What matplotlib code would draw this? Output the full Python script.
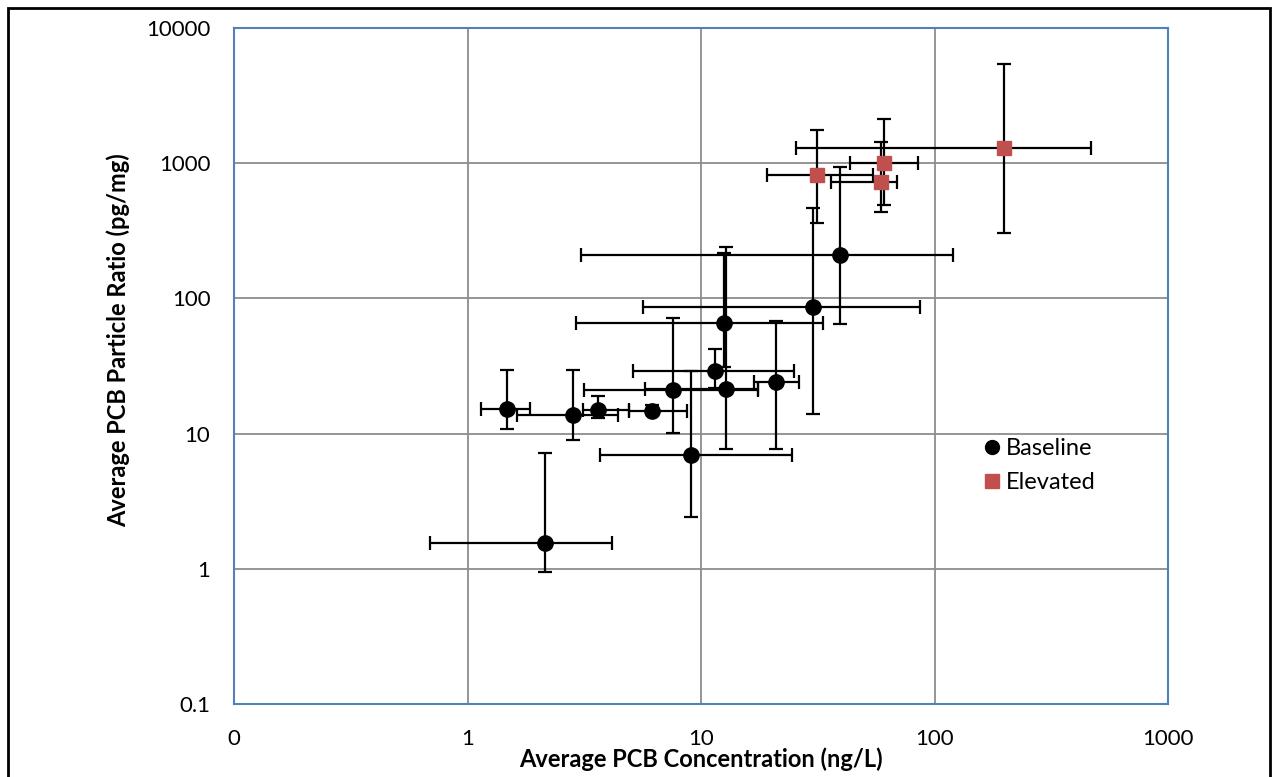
import matplotlib

matplotlib.use('Agg')
import matplotlib.pyplot as plt
from matplotlib.patches import Rectangle
from matplotlib.lines import Line2D
import numpy as np

plt.rcParams['font.family'] = ['Lato', 'DejaVu Sans']

# Baseline: x, x range, y, y range
base_x = [2.15, 1.48, 2.83, 3.61, 6.16, 7.57, 12.8, 11.5, 21.0, 12.5, 30.1, 39.2, 9.02]
base_x_lo = [0.694, 1.145, 1.626, 3.11, 4.94, 3.17, 5.73, 5.10, 16.8, 2.92, 5.63, 3.06, 3.70]
base_x_hi = [4.14, 1.843, 4.40, 4.94, 8.70, 17.6, 17.6, 25.0, 26.2, 33.2, 86.3, 119.8, 24.5]
base_y = [1.565, 15.2, 13.8, 15.0, 14.8, 21.1, 21.3, 29.1, 23.9, 65.7, 87.1, 210, 6.91]
base_y_lo = [0.945, 10.8, 8.95, 13.0, 14.0, 10.1, 7.68, 21.8, 7.72, 31.2, 14.0, 64.5, 2.40]
base_y_hi = [7.13, 29.5, 29.6, 19.0, 16.3, 71.5, 239, 42.2, 68.6, 216, 466, 945, 28.8]

# Elevated
elev_x = [31.5, 60.5, 59.1, 198]
elev_x_lo = [19.1, 43.3, 35.9, 25.4]
elev_x_hi = [54.3, 84.8, 68.9, 469]
elev_y = [816, 1002, 732, 1293]
elev_y_lo = [360, 492, 439, 304]
elev_y_hi = [1766, 2130, 1447, 5433]

x_ticks = [0.1, 1, 10, 100, 1000]
x_tick_labels = ['0', '1', '10', '100', '1000']
y_ticks = [0.1, 1, 10, 100, 1000, 10000]
y_tick_labels = ['0.1', '1', '10', '100', '1000', '10000']

red = '#C0504D'


def err(v, lo, hi):
    v = np.array(v)
    return [v - np.array(lo), np.array(hi) - v]


fig = plt.figure(figsize=(12.72, 7.77), dpi=100)
ax = fig.add_axes([234 / 1272, 1 - 704 / 777, 934 / 1272, 676 / 777])

ax.errorbar(base_x, base_y, xerr=err(base_x, base_x_lo, base_x_hi),
            yerr=err(base_y, base_y_lo, base_y_hi),
            fmt='o', color='black', ecolor='black', markersize=11,
            elinewidth=1.6, capsize=5, capthick=1.6, zorder=3)
ax.errorbar(elev_x, elev_y, xerr=err(elev_x, elev_x_lo, elev_x_hi),
            yerr=err(elev_y, elev_y_lo, elev_y_hi),
            fmt='s', color=red, ecolor='black', markersize=10.5,
            elinewidth=1.6, capsize=5, capthick=1.6, zorder=3)

ax.set_xscale('log')
ax.set_yscale('log')
ax.set_xlim(0.1, 1000)
ax.set_ylim(0.1, 10000)
ax.set_xticks(x_ticks)
ax.set_xticklabels(x_tick_labels)
ax.set_yticks(y_ticks)
ax.set_yticklabels(y_tick_labels)
ax.minorticks_off()
ax.tick_params(axis='both', length=0, labelsize=16)
ax.tick_params(axis='x', pad=18)
ax.tick_params(axis='y', pad=17)

ax.grid(True, color='#8c8c8c', linewidth=1.3)
ax.set_axisbelow(True)
for s in ax.spines.values():
    s.set_color('#4F81BD')
    s.set_linewidth(1.5)

ax.set_xlabel('Average PCB Concentration (ng/L)', fontsize=17, fontweight='bold')
ax.set_ylabel('Average PCB Particle Ratio (pg/mg)', fontsize=17, fontweight='bold')
ax.xaxis.set_label_coords(0.5, -0.064)
ax.yaxis.set_label_coords(-0.111, 0.538)

handles = [Line2D([], [], linestyle='none', marker='o', color='black', markersize=10),
           Line2D([], [], linestyle='none', marker='s', color=red, markersize=10)]
ax.legend(handles, ['Baseline', 'Elevated'], loc='upper left',
          bbox_to_anchor=(0.776, 0.425), frameon=False,
          fontsize=17, handletextpad=0.1, handlelength=1.0, labelspacing=0.55)

# outer frame of the chart area
fig.patches.append(Rectangle((8 / 1272, -0.01), 1262 / 1272, 1 - 8 / 777 + 0.01,
                             transform=fig.transFigure, fill=False,
                             edgecolor='black', linewidth=2))

plt.savefig('out.png', dpi=100)
plt.close()
